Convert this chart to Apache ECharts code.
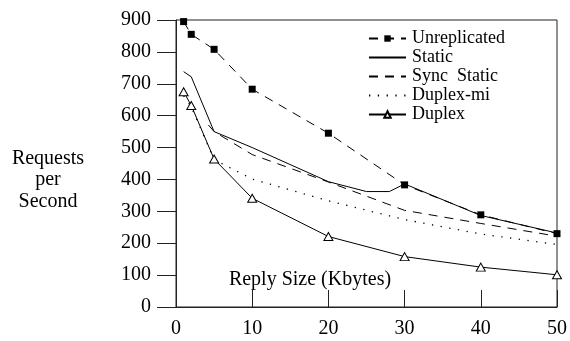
<!DOCTYPE html>
<html>
<head>
<meta charset="utf-8">
<script src="https://cdn.jsdelivr.net/npm/echarts@6/dist/echarts.min.js"></script>
<style>html,body{margin:0;padding:0;background:#fff}#c{width:570px;height:341px}</style>
</head>
<body>
<div id="c"></div>
<script>
var seriesNames = ['Unreplicated', 'Static', 'Sync  Static', 'Duplex-mi', 'Duplex'];
var xTicks = [0, 10, 20, 30, 40, 50];
var yTicks = [0, 100, 200, 300, 400, 500, 600, 700, 800, 900];

var unrepX = [1, 2, 5, 10, 20, 30, 40, 50];
var unrepY = [895, 855, 808, 683, 545, 383, 289, 230];

var staticX = [1, 2, 5, 10, 20, 25, 28, 30, 40, 50];
var staticY = [738, 722, 550, 500, 393, 362, 362, 386, 287, 232];

var syncX = [4.25, 5, 10, 20, 30, 40, 50];
var syncY = [571, 550, 478, 392, 303, 262, 222];

var dupmiX = [1, 2, 5, 10, 20, 30, 40, 50];
var dupmiY = [662, 628, 462, 401, 333, 274, 229, 196];

var duplexX = [1, 2, 5, 10, 20, 30, 40, 50];
var duplexY = [675, 632, 464, 341, 221, 158, 125, 101];

function pairs(xs, ys) { return xs.map(function (x, i) { return [x, ys[i]]; }); }

var FONT = 'Times New Roman';
var chart = echarts.init(document.getElementById('c'));
chart.setOption({
  animation: false,
  grid: { left: 176, right: 11, top: 20, bottom: 34, show: true, borderColor: '#222', borderWidth: 1, backgroundColor: 'transparent' },
  xAxis: {
    type: 'value', min: xTicks[0], max: xTicks[xTicks.length - 1], interval: 10,
    axisLine: { show: true, lineStyle: { color: '#222', width: 1 } },
    axisTick: { show: true, inside: true, length: 17, lineStyle: { color: '#222' } },
    axisLabel: { fontFamily: FONT, fontSize: 20, color: '#000', margin: 12 },
    splitLine: { show: false }
  },
  yAxis: {
    type: 'value', min: yTicks[0], max: yTicks[yTicks.length - 1], interval: 100,
    axisLine: { show: true, lineStyle: { color: '#222', width: 1 } },
    axisTick: { show: true, inside: false, length: 19, lineStyle: { color: '#222' } },
    axisLabel: { fontFamily: FONT, fontSize: 20, color: '#000', margin: 25 },
    splitLine: { show: false }
  },
  legend: {
    orient: 'vertical', left: 363, top: 24, itemWidth: 37, itemHeight: 8, itemGap: 0,
    textStyle: { fontFamily: FONT, fontSize: 18, color: '#000', lineHeight: 19, padding: [0, 0, 0, 1] },
    data: [
      { name: seriesNames[0] },
      { name: seriesNames[1], itemStyle: { opacity: 0 } },
      { name: seriesNames[2], itemStyle: { opacity: 0 } },
      { name: seriesNames[3], itemStyle: { opacity: 0 } },
      { name: seriesNames[4] }
    ]
  },
  graphic: [
    { type: 'text', style: { text: 'Reply Size (Kbytes)', x: 310, y: 280, align: 'center', verticalAlign: 'middle', fontFamily: FONT, fontSize: 20, fill: '#000' } },
    { type: 'text', style: { text: 'Requests\nper\nSecond', x: 48, y: 180, align: 'center', verticalAlign: 'middle', fontFamily: FONT, fontSize: 20, lineHeight: 21.7, fill: '#000' } }
  ],
  series: [
    { name: seriesNames[0], type: 'line', data: pairs(unrepX, unrepY), symbol: 'rect', symbolSize: 7, showAllSymbol: true,
      itemStyle: { color: '#000' }, lineStyle: { color: '#000', width: 1, type: [9, 7] } },
    { name: seriesNames[1], type: 'line', data: pairs(staticX, staticY), symbol: 'none',
      itemStyle: { color: '#000' }, lineStyle: { color: '#000', width: 1 } },
    { name: seriesNames[2], type: 'line', data: pairs(syncX, syncY), symbol: 'none',
      itemStyle: { color: '#000' }, lineStyle: { color: '#000', width: 1, type: [9, 7] } },
    { name: seriesNames[3], type: 'line', data: pairs(dupmiX, dupmiY), symbol: 'none',
      itemStyle: { color: '#000' }, lineStyle: { color: '#000', width: 1.3, type: [1.3, 7.5] } },
    { name: seriesNames[4], type: 'line', data: pairs(duplexX, duplexY), symbol: 'triangle', symbolSize: [9, 8], showAllSymbol: true,
      itemStyle: { color: '#fff', borderColor: '#000', borderWidth: 1 }, lineStyle: { color: '#000', width: 1 } }
  ]
});
</script>
</body>
</html>
